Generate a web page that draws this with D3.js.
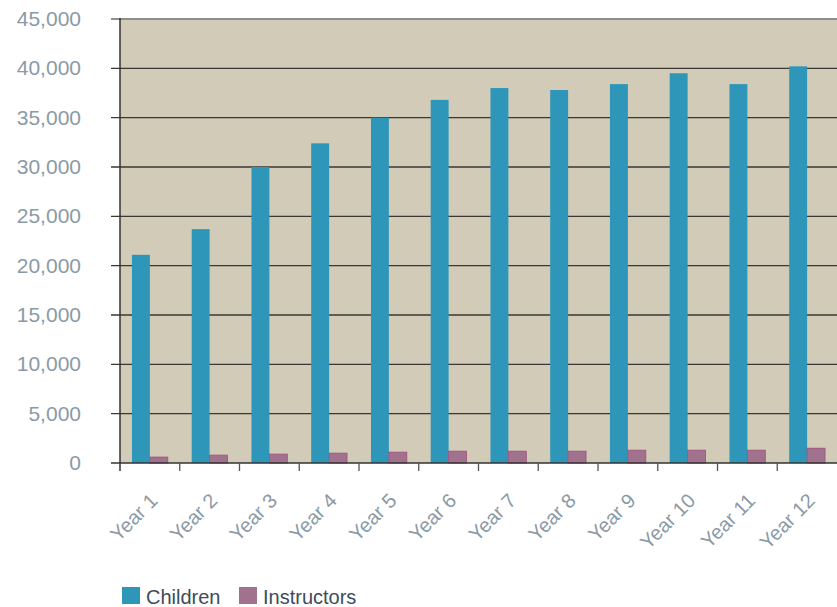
<html>
<head>
<meta charset="UTF-8">
<title>Children and Instructors by Year</title>
<style>
  body { margin: 0; background: #fff; font-family: "Liberation Sans", Arial, sans-serif; }
</style>
</head>
<body>
<svg id="chart"></svg>
<script src="https://d3js.org/d3.v7.min.js"></script>
<script>
// data
const years = ["Year 1", "Year 2", "Year 3", "Year 4", "Year 5", "Year 6",
               "Year 7", "Year 8", "Year 9", "Year 10", "Year 11", "Year 12"];
const children = [21100, 23700, 30000, 32400, 35000, 36800, 38000, 37800, 38400, 39500, 38400, 40200];
const instructors = [600, 800, 900, 1000, 1100, 1200, 1200, 1200, 1300, 1300, 1300, 1500];
const seriesNames = ["Children", "Instructors"];
const yTicks = [0, 5000, 10000, 15000, 20000, 25000, 30000, 35000, 40000, 45000];

let width = 837, height = 607;
let margin = {top: 19, right: 0, bottom: 144, left: 120};

let svg = d3.select("#chart")
  .attr("width", width)
  .attr("height", height);

let x0 = d3.scaleBand()
  .domain(years)
  .range([margin.left, width - margin.right]);

let x1 = d3.scaleBand()
  .domain(seriesNames)
  .range([x0.bandwidth() * 0.2, x0.bandwidth() * 0.8]);

let y = d3.scaleLinear()
  .domain([0, 45000])
  .range([height - margin.bottom, margin.top]);

let colors = {Children: "#2e96b9", Instructors: "#a0728e"};

// plot background
svg.append("rect")
  .attr("x", margin.left)
  .attr("y", margin.top)
  .attr("width", width - margin.right - margin.left)
  .attr("height", y(0) - margin.top)
  .attr("fill", "#d2cbb8");

// gridlines
svg.append("g")
  .selectAll("line")
  .data(yTicks.filter(d => d > 0))
  .enter()
  .append("line")
  .attr("x1", margin.left - 9)
  .attr("x2", width)
  .attr("y1", d => y(d))
  .attr("y2", d => y(d))
  .attr("stroke", d => d == 45000 ? "#8f8f8f" : "#3a3735")
  .attr("stroke-width", d => d == 45000 ? 2 : 1.3);

// y labels
svg.append("g")
  .selectAll("text")
  .data(yTicks)
  .enter()
  .append("text")
  .attr("x", 81)
  .attr("y", d => y(d) + 7)
  .attr("text-anchor", "end")
  .attr("font-size", "21px")
  .attr("fill", "#8a9aa6")
  .text(d => d3.format(",")(d));

// bars
let groups = svg.append("g")
  .selectAll("g")
  .data(years)
  .enter()
  .append("g")
  .attr("transform", d => `translate(${x0(d)},0)`);

groups.selectAll("rect")
  .data((d, i) => [{key: "Children", value: children[i]}, {key: "Instructors", value: instructors[i]}])
  .enter()
  .append("rect")
  .attr("x", d => x1(d.key))
  .attr("y", d => y(d.value))
  .attr("width", x1.bandwidth())
  .attr("height", d => y(0) - y(d.value))
  .attr("fill", d => colors[d.key])
  .attr("stroke", d => d.key == "Instructors" ? "#a24d7e" : "none")
  .attr("stroke-width", 0.8);

// axes lines
svg.append("line")
  .attr("x1", margin.left).attr("x2", margin.left)
  .attr("y1", margin.top - 1).attr("y2", y(0) + 8)
  .attr("stroke", "#333").attr("stroke-width", 1.5);

svg.append("line")
  .attr("x1", margin.left - 9).attr("x2", width)
  .attr("y1", y(0)).attr("y2", y(0))
  .attr("stroke", "#333").attr("stroke-width", 1.5);

// x ticks at band boundaries
svg.append("g")
  .selectAll("line")
  .data(years.slice(1))
  .enter()
  .append("line")
  .attr("x1", d => x0(d)).attr("x2", d => x0(d))
  .attr("y1", y(0)).attr("y2", y(0) + 8)
  .attr("stroke", "#555").attr("stroke-width", 1.3);

// x labels
svg.append("g")
  .selectAll("text")
  .data(years)
  .enter()
  .append("text")
  .attr("transform", d => `translate(${x0(d) + x0.bandwidth() / 2 + 9},${y(0) + 39}) rotate(-45)`)
  .attr("text-anchor", "end")
  .attr("font-size", "20px")
  .attr("fill", "#8a9aa6")
  .text(d => d);

// legend
let legend = svg.append("g")
  .selectAll("g")
  .data(seriesNames)
  .enter()
  .append("g")
  .attr("transform", (d, i) => `translate(${122 + i * 117},587)`);

legend.append("rect")
  .attr("width", 18)
  .attr("height", 17)
  .attr("fill", d => colors[d]);

legend.append("text")
  .attr("x", 24)
  .attr("y", 17)
  .attr("font-size", "20px")
  .attr("fill", "#3d4b5a")
  .text(d => d);
</script>
</body>
</html>
